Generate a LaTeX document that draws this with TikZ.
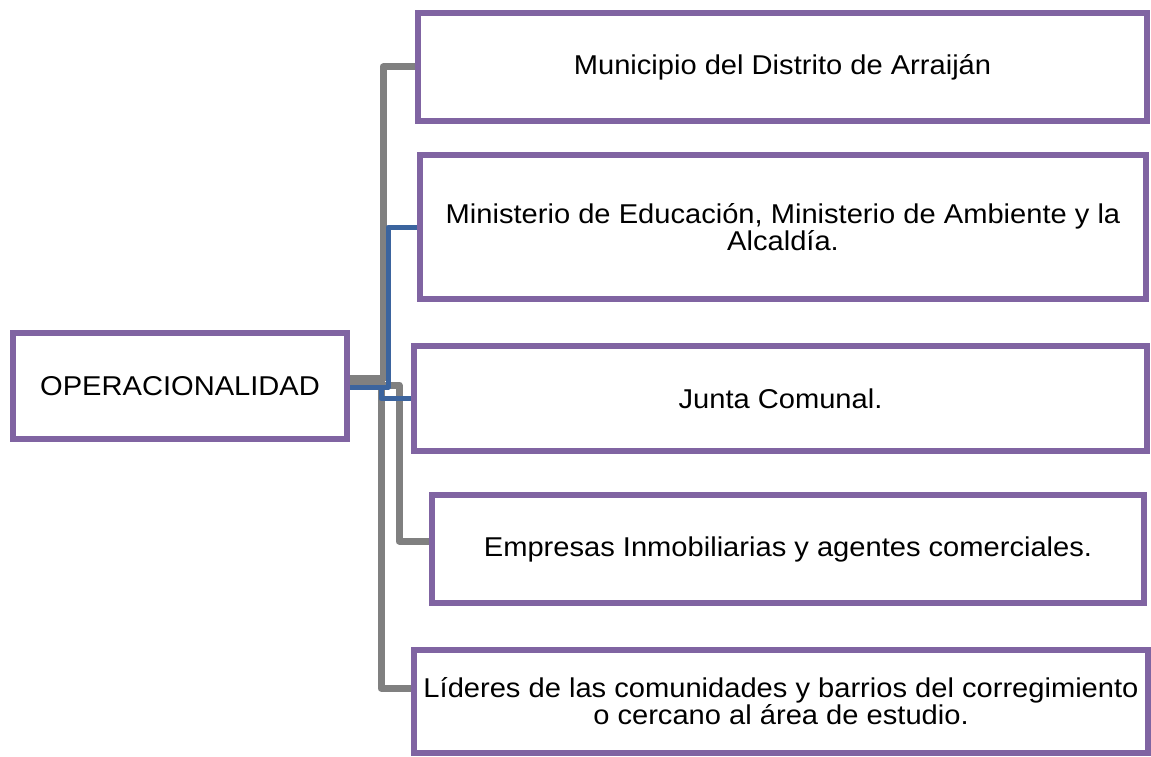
\documentclass[tikz,border=0pt]{standalone}
\usepackage{fontspec}
\setmainfont{Liberation Sans}[FakeStretch=1.07]
\usetikzlibrary{backgrounds}

\definecolor{boxpurple}{RGB}{128,100,162}
\definecolor{linkgray}{RGB}{128,128,128}
\definecolor{linkblue}{RGB}{59,100,158}

\tikzset{every picture/.style={line width=0.75pt}}
\tikzset{
  orgbox/.style={draw=boxpurple, line width=4.5pt, fill=white, inner sep=0pt, align=center,
    font=\fontsize{20.4}{17.5}\selectfont},
  graylink/.style={draw=linkgray, line width=5.25pt, line join=round},
  bluelink/.style={draw=linkblue, line width=3.75pt, line join=round}
}

\begin{document}
\begin{tikzpicture}[x=0.75pt,y=0.75pt,yscale=-1,xscale=1]
    \useasboundingbox (0,0) rectangle (1151,756);

    %Shape: Rectangle [root]
    \node [orgbox, minimum width=334*0.75pt, minimum height=106*0.75pt] (op) at (180,386) {OPERACIONALIDAD};

    %Shape: Rectangle [right column]
    \node [orgbox, minimum width=729*0.75pt, minimum height=108*0.75pt] (b1) at (782.5,67) {Municipio del Distrito de Arraiján};
    \node [orgbox, minimum width=726*0.75pt, minimum height=144*0.75pt] (b2) at (783,227) {Ministerio de Educación, Ministerio de Ambiente y la\\Alcaldía.};
    \node [orgbox, minimum width=733*0.75pt, minimum height=105*0.75pt] (b3) at (780.5,398.5) {Junta Comunal.};
    \node [orgbox, minimum width=712*0.75pt, minimum height=108*0.75pt] (b4) at (788,549) {Empresas Inmobiliarias y agentes comerciales.};
    \node [orgbox, minimum width=734*0.75pt, minimum height=103*0.75pt] (b5) at (781,701.5) {Líderes de las comunidades y barrios del corregimiento\\o cercano al área de estudio.};

    \begin{scope}[on background layer]
    %Connectors: gray
    \draw [graylink] ([yshift=-6pt]op.east) -- ++(33,0) |- (b1.west);
    \draw [graylink] ([yshift=-4.5pt]op.east) -- ++(31,0) |- ([yshift=-10pt]b5.west);
    \draw [graylink] ([yshift=-0.75pt]op.east) -- ++(49,0) |- ([yshift=-6pt]b4.west);
    %Connectors: blue
    \draw [bluelink] ([yshift=0.75pt]op.east) -- ++(38,0) |- (b2.west);
    \draw [bluelink] ([yshift=0.75pt]op.east) -- ++(31,0) |- (b3.west);
    \end{scope}

\end{tikzpicture}
\end{document}
